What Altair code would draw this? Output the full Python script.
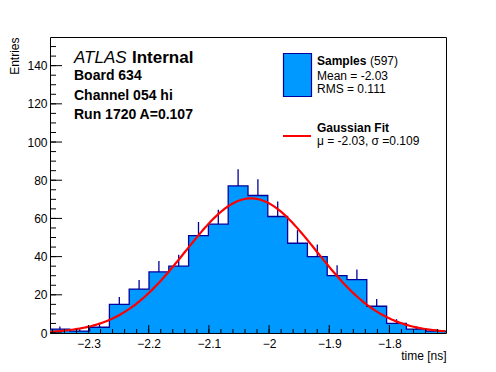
import altair as alt
import pandas as pd

# ---- data ----
bin_edges = [-2.364, -2.3311, -2.2982, -2.2653, -2.2324, -2.1995, -2.1666,
             -2.1337, -2.1008, -2.0679, -2.035, -2.0021, -1.9692, -1.9363,
             -1.9034, -1.8705, -1.8376, -1.8047, -1.7718, -1.7389, -1.706]
counts = [2, 1, 3, 15, 23, 32, 35, 51, 57, 77, 72, 61, 47, 40, 30, 28, 14, 5, 2, 1]
x_major = [-2.3, -2.2, -2.1, -2.0, -1.9, -1.8]
y_major = [0, 20, 40, 60, 80, 100, 120, 140]
fit_amp = 70.5
fit_mu = -2.03
fit_sigma = 0.109

FONT = "Liberation Sans"
FILL = "#0099ff"
EDGE = "#00009a"
W, H = 396, 296

hist = pd.DataFrame({"lo": bin_edges[:-1], "hi": bin_edges[1:], "n": counts})
hist["c"] = (hist["lo"] + hist["hi"]) / 2
step = pd.DataFrame({"edge": bin_edges, "n": counts + [counts[-1]]})

xs = alt.Scale(domain=[bin_edges[0], bin_edges[-1]], nice=False, zero=False)
ys = alt.Scale(domain=[0, 155], nice=False, zero=False)

xaxis = alt.Axis(values=x_major, format=".1~f", ticks=False, domain=False, grid=False,
                 labelPadding=5, labelFont=FONT, labelFontSize=12, labelColor="black",
                 labelFlush=False, labelOverlap=False,
                 title="time [ns]", titleFont=FONT, titleFontSize=12, titleFontWeight="normal",
                 titleColor="black", titleAnchor="end", titleAlign="right",
                 titleX=W, titleY=26, titleBaseline="alphabetic")
yaxis = alt.Axis(values=y_major, format="d", ticks=False, domain=False, grid=False,
                 labelPadding=3, labelFont=FONT, labelFontSize=12, labelColor="black",
                 labelFlush=False, labelOverlap=False,
                 title="Entries", titleFont=FONT, titleFontSize=12, titleFontWeight="normal",
                 titleColor="black", titleAnchor="end", titleAlign="right", titleAngle=270,
                 titleX=-32, titleY=0, titleBaseline="alphabetic")

fill = alt.Chart(step).transform_calculate(base="0").mark_area(
    interpolate="step-after", color=FILL, opacity=1, clip=True
).encode(
    x=alt.X("edge:Q", scale=xs, axis=xaxis),
    y=alt.Y("n:Q", scale=ys, axis=yaxis),
    y2="base:Q",
)

outline = alt.Chart(step).mark_line(
    interpolate="step-after", color=EDGE, strokeWidth=1.3, clip=True
).encode(x=alt.X("edge:Q", scale=xs), y=alt.Y("n:Q", scale=ys))

errors = alt.Chart(hist).transform_calculate(
    top="datum.n + sqrt(datum.n)"
).mark_rule(color=EDGE, strokeWidth=1.3, clip=True).encode(
    x=alt.X("c:Q", scale=xs), y=alt.Y("n:Q", scale=ys), y2="top:Q"
)

fit = alt.Chart(alt.sequence(start=bin_edges[0], stop=bin_edges[-1] + 0.001, step=0.0033, as_="t")).transform_calculate(
    g=f"{fit_amp} * exp(-0.5 * pow((datum.t - ({fit_mu})) / {fit_sigma}, 2))"
).mark_line(color="#ff0000", strokeWidth=2.2, clip=True).encode(
    x=alt.X("t:Q", scale=xs), y=alt.Y("g:Q", scale=ys)
)

# inward ticks (ROOT style)
xmaj = alt.Chart(pd.DataFrame({"v": x_major})).mark_rule(color="black", strokeWidth=1).encode(
    x=alt.X("v:Q", scale=xs), y=alt.value(H), y2=alt.value(H - 8))
xmin = alt.Chart(alt.sequence(start=-2.36, stop=-1.71, step=0.02, as_="v")).mark_rule(
    color="black", strokeWidth=1).encode(
    x=alt.X("v:Q", scale=xs), y=alt.value(H), y2=alt.value(H - 4))
ymaj = alt.Chart(pd.DataFrame({"v": y_major})).mark_rule(color="black", strokeWidth=1).encode(
    y=alt.Y("v:Q", scale=ys), x=alt.value(0), x2=alt.value(12))
ymin = alt.Chart(alt.sequence(start=0, stop=151, step=5, as_="v")).mark_rule(
    color="black", strokeWidth=1).encode(
    y=alt.Y("v:Q", scale=ys), x=alt.value(0), x2=alt.value(6))


def label(text, x, y, size, weight="normal", style="normal"):
    return alt.Chart(alt.Data(values=[{}])).mark_text(
        text=text, font=FONT, fontSize=size, fontWeight=weight, fontStyle=style,
        align="left", baseline="alphabetic", color="black"
    ).encode(x=alt.value(x), y=alt.value(y))


texts = [
    label("ATLAS", 24, 25.5, 17, style="italic"),
    label("Internal", 82, 25.5, 17, weight="bold"),
    label("Board 634", 24, 43, 14, weight="bold"),
    label("Channel 054 hi", 24, 63, 14, weight="bold"),
    label("Run 1720 A=0.107", 24, 82, 14, weight="bold"),
    label("Samples", 267, 28, 12, weight="bold"),
    label("(597)", 320, 28, 12),
    label("Mean = -2.03", 267, 43, 12),
    label("RMS = 0.111", 267, 56, 12),
    label("Gaussian Fit", 267, 95, 12, weight="bold"),
    label("\u03bc = -2.03, \u03c3 =0.109", 267, 108, 12),
]

leg_box = alt.Chart(alt.Data(values=[{}])).mark_rect(
    color=FILL, stroke=EDGE, strokeWidth=1.2
).encode(x=alt.value(233.5), x2=alt.value(261.5), y=alt.value(16.5), y2=alt.value(59.5))
leg_line = alt.Chart(alt.Data(values=[{}])).mark_rule(
    color="#ff0000", strokeWidth=2
).encode(x=alt.value(233), x2=alt.value(261), y=alt.value(99))

chart = alt.layer(
    fill, outline, errors, fit, xmaj, xmin, ymaj, ymin, leg_box, leg_line, *texts
).properties(
    width=W, height=H,
    autosize=alt.AutoSizeParams(type="none"),
    padding={"left": 42, "top": 29, "right": 42, "bottom": 30},
).configure_view(stroke="black", strokeWidth=1)

chart.save("out.html", embed_options={"renderer": "svg", "actions": False})
